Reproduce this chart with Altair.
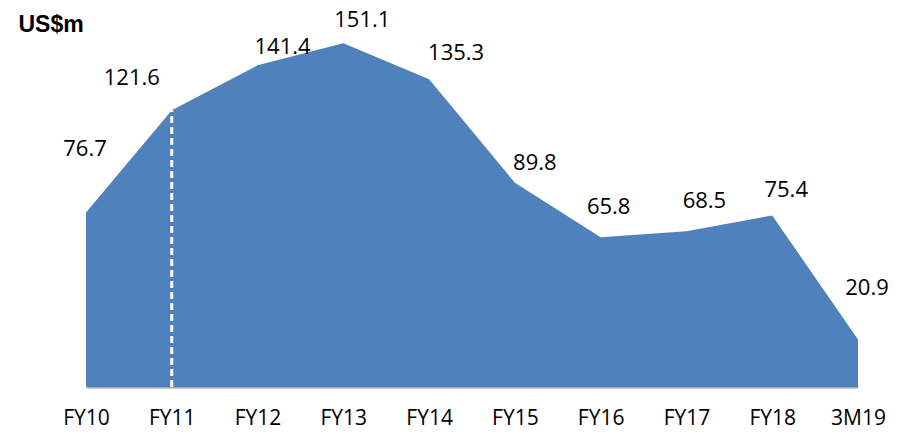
import altair as alt
import pandas as pd

periods = ["FY10", "FY11", "FY12", "FY13", "FY14", "FY15", "FY16", "FY17", "FY18", "3M19"]
values = [76.7, 121.6, 141.4, 151.1, 135.3, 89.8, 65.8, 68.5, 75.4, 20.9]
marker_period = "FY11"
unit_label = "US$m"

# label placement style (pixel offsets from each point)
label_offsets = {
    "FY10": (-1, -64), "FY11": (-40, -32), "FY12": (25, -18), "FY13": (19, -23),
    "FY14": (27, -26), "FY15": (20, -20), "FY16": (8, -30), "FY17": (18, -30),
    "FY18": (14, -25), "3M19": (9, -51),
}

df = pd.DataFrame({"period": periods, "value": values})
marker_df = df[df["period"] == marker_period].copy()
marker_df["base"] = 0.0

xenc = alt.X("period:N", sort=periods,
             scale=alt.Scale(type="point", padding=0),
             axis=alt.Axis(title=None, labelAngle=0, ticks=False, grid=False,
                           domainColor="#a6a6a6", domainWidth=2,
                           labelFont="Open Sans", labelFontSize=21, labelColor="#000000",
                           labelBaseline="alphabetic", labelPadding=37))
yscale = alt.Scale(domain=[0, 160])

area = alt.Chart(df).mark_area(color="#4F81BD", opacity=1, interpolate="linear").encode(
    x=xenc,
    y=alt.Y("value:Q", scale=yscale,
            axis=alt.Axis(title=unit_label, titleAngle=0, titleX=-68, titleY=8,
                          titleAlign="left", titleBaseline="alphabetic",
                          titleFont="Liberation Sans", titleFontSize=23, titleFontWeight="bold",
                          titleColor="#000000", labels=False, ticks=False, domain=False,
                          grid=False)),
)

rule = alt.Chart(marker_df).mark_rule(color="white", strokeWidth=3, strokeDash=[7, 4]).encode(
    x=alt.X("period:N", sort=periods),
    y=alt.Y("base:Q", scale=yscale),
    y2=alt.Y2("value:Q"),
)

layers = [area, rule]
for p in periods:
    dx, dy = label_offsets[p]
    layers.append(
        alt.Chart(df[df["period"] == p]).mark_text(
            font="Open Sans", fontSize=22, color="#000000", dx=dx, dy=dy,
            align="center", baseline="middle",
        ).encode(
            x=alt.X("period:N", sort=periods),
            y=alt.Y("value:Q", scale=yscale),
            text=alt.Text("value:Q", format=".1f"),
        )
    )

chart = alt.layer(*layers).properties(
    width=772, height=364,
    autosize="none",
    background="white",
    padding={"left": 78, "top": 15, "right": 32, "bottom": 41},
).configure_view(strokeWidth=0)

chart.save("out.html", embed_options={"renderer": "svg", "actions": False})
